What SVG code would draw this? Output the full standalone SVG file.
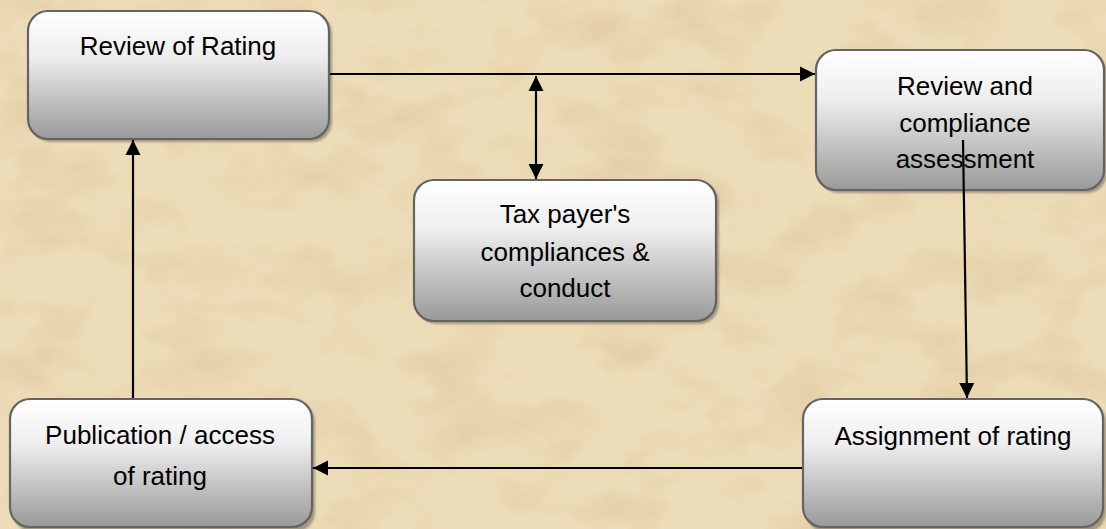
<svg xmlns="http://www.w3.org/2000/svg" width="1106" height="529" viewBox="0 0 1106 529">
<defs>
<linearGradient id="boxg" x1="0" y1="0" x2="0" y2="1">
<stop offset="0" stop-color="#ffffff"/>
<stop offset="0.35" stop-color="#eeeeee"/>
<stop offset="1" stop-color="#999999"/>
</linearGradient>
<filter id="paper" x="0" y="0" width="100%" height="100%">
<feTurbulence type="fractalNoise" baseFrequency="0.012 0.02" numOctaves="4" seed="7"/>
<feColorMatrix type="matrix" values="0 0 0 0 0.72  0 0 0 0 0.56  0 0 0 0 0.32  1.4 0 0 0 -0.62"/>
</filter>
<filter id="shadow" x="-5%" y="-5%" width="115%" height="115%">
<feGaussianBlur stdDeviation="1.2"/>
</filter>
<marker id="arr" markerUnits="userSpaceOnUse" markerWidth="16" markerHeight="16" viewBox="0 0 16 16" refX="15" refY="8" orient="auto-start-reverse">
<path d="M0,0.5 L15,8 L0,15.5 Z" fill="#000"/>
</marker>
<style>
.box{fill:url(#boxg);stroke:#646464;stroke-width:2.2}
.sh{fill:#6b6253;opacity:0.55;filter:url(#shadow)}
.lbl{font-family:"Liberation Sans",Arial,sans-serif;font-size:26px;fill:#000;text-anchor:middle}
.con{stroke:#000;stroke-width:2.2;fill:none}
</style>
</defs>
<rect width="1106" height="529" fill="#eddcb8"/>
<rect width="1106" height="529" filter="url(#paper)"/>

<g id="node-review-of-rating">
<rect class="sh" x="31" y="14" width="301" height="128" rx="20"/>
<rect class="box" x="28" y="11" width="301" height="128" rx="20"/>
<text class="lbl" x="178" y="55">Review of Rating</text>
</g>

<g id="node-review-compliance">
<rect class="sh" x="819" y="53" width="288" height="140" rx="20"/>
<rect class="box" x="816" y="50" width="288" height="140" rx="20"/>
<text class="lbl" x="965" y="95">Review and</text>
<text class="lbl" x="965" y="132">compliance</text>
<text class="lbl" x="965" y="168">assessment</text>
</g>

<g id="node-taxpayer">
<rect class="sh" x="417" y="183" width="302" height="141" rx="20"/>
<rect class="box" x="414" y="180" width="302" height="141" rx="20"/>
<text class="lbl" x="565" y="223">Tax payer's</text>
<text class="lbl" x="565" y="261">compliances &amp;</text>
<text class="lbl" x="565" y="297">conduct</text>
</g>

<g id="node-publication">
<rect class="sh" x="13" y="402" width="302" height="130" rx="20"/>
<rect class="box" x="10" y="399" width="302" height="128" rx="20"/>
<text class="lbl" x="160" y="444">Publication / access</text>
<text class="lbl" x="160" y="485">of rating</text>
</g>

<g id="node-assignment">
<rect class="sh" x="806" y="402" width="300" height="130" rx="20"/>
<rect class="box" x="803" y="399" width="300" height="128" rx="20"/>
<text class="lbl" x="953" y="445">Assignment of rating</text>
</g>

<g id="connectors">
<line class="con" x1="330" y1="74" x2="815" y2="74" marker-end="url(#arr)"/>
<line class="con" x1="536" y1="76" x2="536" y2="179" marker-start="url(#arr)" marker-end="url(#arr)"/>
<line class="con" x1="963" y1="140" x2="967" y2="398" marker-end="url(#arr)"/>
<line class="con" x1="802" y1="468" x2="313" y2="468" marker-end="url(#arr)"/>
<line class="con" x1="133" y1="398" x2="133" y2="140" marker-end="url(#arr)"/>
</g>
</svg>
